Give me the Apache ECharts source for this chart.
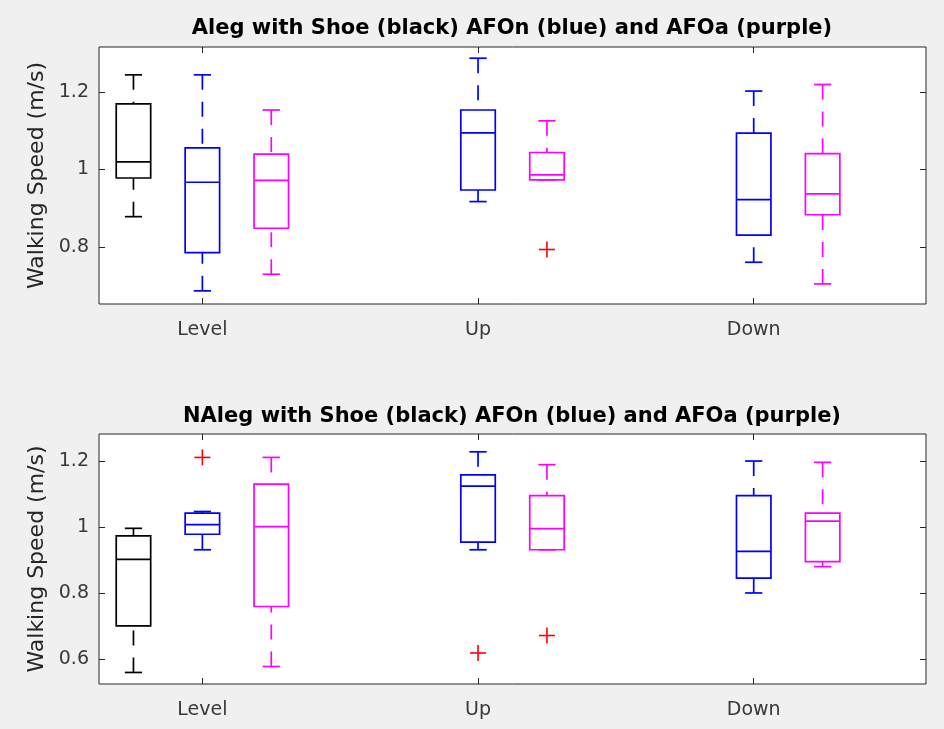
<!DOCTYPE html>
<html>
<head>
<meta charset="utf-8">
<script src="https://cdn.jsdelivr.net/npm/echarts@6/dist/echarts.min.js"></script>
<style>
  html, body { margin: 0; padding: 0; background: #f0f0f0; }
  #main { width: 944px; height: 729px; }
</style>
</head>
<body>
<div id="main"></div>
<script>
// terrains along the x axis, each one gets 4 slots (Shoe, AFOn, AFOa, gap)
var terrains = ['Level', 'Up', 'Down'];

// five-number summaries per terrain: [lower whisker, Q1, median, Q3, upper whisker]
var alegShoe = [[0.878, 0.978, 1.020, 1.170, 1.245], null, null];
var alegAFOn = [[0.686, 0.785, 0.967, 1.056, 1.245], [0.917, 0.947, 1.095, 1.154, 1.288], [0.760, 0.830, 0.922, 1.094, 1.203]];
var alegAFOa = [[0.729, 0.848, 0.972, 1.040, 1.154], [0.973, 0.973, 0.986, 1.044, 1.126], [0.704, 0.883, 0.937, 1.041, 1.220]];
var alegAFOnOutliers = [[], [], []];
var alegAFOaOutliers = [[], [0.793], []];

var nalegShoe = [[0.559, 0.700, 0.902, 0.973, 0.996], null, null];
var nalegAFOn = [[0.931, 0.978, 1.007, 1.042, 1.047], [0.931, 0.954, 1.124, 1.158, 1.228], [0.800, 0.845, 0.926, 1.095, 1.200]];
var nalegAFOa = [[0.577, 0.759, 1.001, 1.130, 1.211], [0.931, 0.931, 0.995, 1.095, 1.189], [0.880, 0.895, 1.018, 1.042, 1.196]];
var nalegAFOnOutliers = [[1.211], [0.618], []];
var nalegAFOaOutliers = [[], [0.671], []];

// y axis limits and tick labels
var alegRange = [0.652, 1.317];
var alegTicks = [0.8, 1, 1.2];
var nalegRange = [0.524, 1.282];
var nalegTicks = [0.6, 0.8, 1, 1.2];

var FONT = 'DejaVu Sans';
var slotNames = [];
var slotLabels = [];
for (var i = 0; i < terrains.length * 4; i++) {
    slotNames.push(String(i));
    slotLabels.push(i % 4 === 1 ? terrains[(i - 1) / 4] : '');
}

function boxData(summaries, cond) {
    var out = [];
    summaries.forEach(function (s, t) {
        if (s) out.push([t * 4 + cond].concat(s));
    });
    return out;
}
function outlierData(lists, cond) {
    var out = [];
    lists.forEach(function (vals, t) {
        vals.forEach(function (v) { out.push([t * 4 + cond, v]); });
    });
    return out;
}

function boxRenderer(color) {
    return function (params, api) {
        var slot = api.value(0);
        var band = api.size([1, 0])[0];
        var x = api.coord([slot, 1])[0];
        var y = function (k) { return api.coord([slot, api.value(k)])[1]; };
        var half = band * 0.25, capHalf = band * 0.125;
        var solid = { stroke: color, lineWidth: 1.7, fill: null };
        var dashed = { stroke: color, lineWidth: 1.7, fill: null, lineDash: [15, 12] };
        return {
            type: 'group',
            children: [
                { type: 'line', shape: { x1: x, y1: y(5), x2: x, y2: y(4) }, style: dashed },
                { type: 'line', shape: { x1: x, y1: y(1), x2: x, y2: y(2) }, style: dashed },
                { type: 'line', shape: { x1: x - capHalf, y1: y(5), x2: x + capHalf, y2: y(5) }, style: solid },
                { type: 'line', shape: { x1: x - capHalf, y1: y(1), x2: x + capHalf, y2: y(1) }, style: solid },
                { type: 'rect', shape: { x: x - half, y: y(4), width: half * 2, height: y(2) - y(4) }, style: solid },
                { type: 'line', shape: { x1: x - half, y1: y(3), x2: x + half, y2: y(3) }, style: solid }
            ]
        };
    };
}

function plusRenderer(params, api) {
    var p = api.coord([api.value(0), api.value(1)]);
    var st = { stroke: '#ff0000', lineWidth: 1.6 };
    return {
        type: 'group',
        children: [
            { type: 'line', shape: { x1: p[0] - 8, y1: p[1], x2: p[0] + 8, y2: p[1] }, style: st },
            { type: 'line', shape: { x1: p[0], y1: p[1] - 8, x2: p[0], y2: p[1] + 8 }, style: st }
        ]
    };
}

function xAxes(gridIndex) {
    var tick = {
        show: true, inside: true, length: 6, alignWithLabel: true,
        interval: function (i) { return slotLabels[i] !== ''; },
        lineStyle: { color: '#262626' }
    };
    return [
        {
            type: 'category', gridIndex: gridIndex, position: 'bottom', data: slotNames,
            axisLine: { show: false }, axisTick: tick, splitLine: { show: false },
            axisLabel: {
                interval: 0, margin: 17, fontFamily: FONT, fontSize: 19, color: '#383838',
                formatter: function (v, i) { return slotLabels[i]; }
            }
        },
        {
            type: 'category', gridIndex: gridIndex, position: 'top', data: slotNames,
            axisLine: { show: false }, axisTick: tick, axisLabel: { show: false }, splitLine: { show: false }
        }
    ];
}

function yAxes(gridIndex, range, ticks) {
    var tick = { show: true, inside: true, length: 6, customValues: ticks, lineStyle: { color: '#262626' } };
    return [
        {
            type: 'value', gridIndex: gridIndex, position: 'left', min: range[0], max: range[1],
            axisLine: { show: false }, axisTick: tick, splitLine: { show: false },
            axisLabel: {
                customValues: ticks, margin: 10, fontFamily: FONT, fontSize: 19, color: '#383838',
                formatter: function (v) { return String(+(+v).toFixed(2)); }
            },
            name: 'Walking Speed (m/s)', nameLocation: 'middle', nameGap: 44,
            nameTextStyle: { fontFamily: FONT, fontSize: 22, color: '#262626' }
        },
        {
            type: 'value', gridIndex: gridIndex, position: 'right', min: range[0], max: range[1],
            axisLine: { show: false }, axisTick: tick, axisLabel: { show: false }, splitLine: { show: false }
        }
    ];
}

function panelSeries(axisIdx, shoe, afon, afoa, afonOut, afoaOut) {
    var base = { type: 'custom', xAxisIndex: axisIdx, yAxisIndex: axisIdx, silent: true };
    return [
        Object.assign({ renderItem: boxRenderer('#000000'), data: boxData(shoe, 0) }, base),
        Object.assign({ renderItem: boxRenderer('#0000ff'), data: boxData(afon, 1) }, base),
        Object.assign({ renderItem: boxRenderer('#ff00ff'), data: boxData(afoa, 2) }, base),
        Object.assign({ renderItem: plusRenderer, data: outlierData(afonOut, 1).concat(outlierData(afoaOut, 2)) }, base)
    ];
}

var chart = echarts.init(document.getElementById('main'));
var gridStyle = { show: true, backgroundColor: '#ffffff', borderColor: '#262626', borderWidth: 1 };

var option = {
    backgroundColor: '#f0f0f0',
    animation: false,
    grid: [
        Object.assign({ left: 99, right: 18, top: 47, height: 257 }, gridStyle),
        Object.assign({ left: 99, right: 18, top: 434, height: 250 }, gridStyle)
    ],
    xAxis: xAxes(0).concat(xAxes(1)),
    yAxis: yAxes(0, alegRange, alegTicks).concat(yAxes(1, nalegRange, nalegTicks)),
    graphic: [
        {
            type: 'text', x: 512, y: 29,
            style: { text: 'Aleg with Shoe (black) AFOn (blue) and AFOa (purple)', align: 'center', verticalAlign: 'middle',
                     font: 'bold 21px "DejaVu Sans"', fill: '#000' }
        },
        {
            type: 'text', x: 512, y: 417,
            style: { text: 'NAleg with Shoe (black) AFOn (blue) and AFOa (purple)', align: 'center', verticalAlign: 'middle',
                     font: 'bold 21px "DejaVu Sans"', fill: '#000' }
        }
    ],
    series: panelSeries(0, alegShoe, alegAFOn, alegAFOa, alegAFOnOutliers, alegAFOaOutliers)
        .concat(panelSeries(2, nalegShoe, nalegAFOn, nalegAFOa, nalegAFOnOutliers, nalegAFOaOutliers))
};
chart.setOption(option);
</script>
</body>
</html>
